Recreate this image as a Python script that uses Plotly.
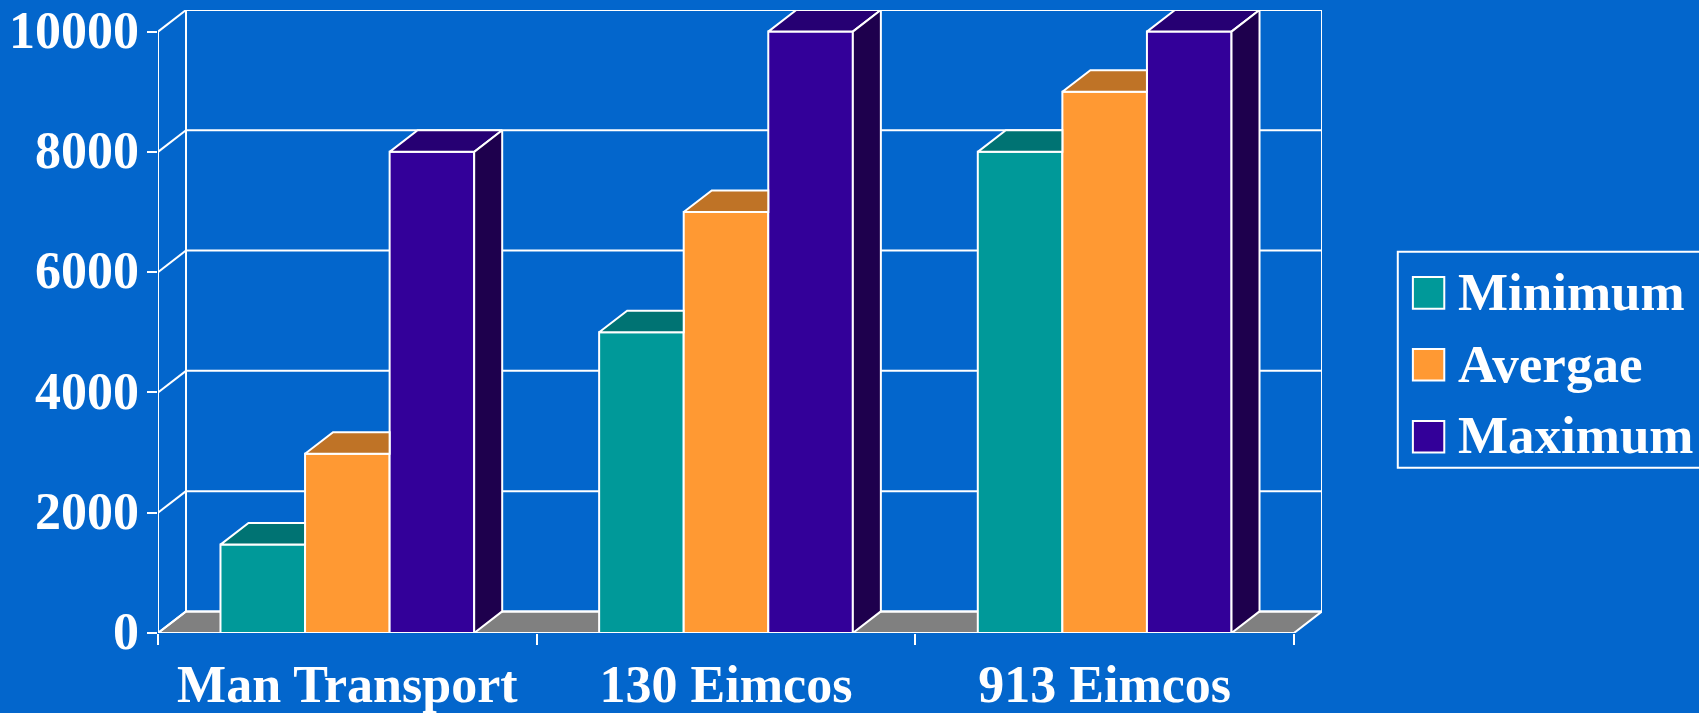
import plotly.graph_objects as go

CATEGORIES = ["Man Transport", "130 Eimcos", "913 Eimcos"]
MINIMUM = [1470, 5000, 8000]
AVERGAE = [2980, 7000, 9000]
MAXIMUM = [8000, 10000, 10000]
SERIES = ["Minimum", "Avergae", "Maximum"]
Y_TICKS = [0, 2000, 4000, 6000, 8000, 10000]

FRONT = ["#009999", "#FF9933", "#330099"]
TOP = ["#007373", "#BF7326", "#260073"]
SIDE = "#1E004D"
BG = "#0366CC"
FLOOR = "#808080"
WHITE = "white"
FONT = "Liberation Serif"
SIZE = 52
LEGEND_SIZE = 53

W, H = 1699, 713
L, R, T, B = 157.5, 1321.7, 10.3, 633.3
GROUPS = len(CATEGORIES)
DX = 28 / 378.5       # depth of the 3-D box in x-axis units
DY = 359              # depth of the 3-D box in y-axis units
BARGAP = 0.33
BAR_W = (1 - BARGAP) / 3
XMAX = GROUPS + DX
YMAX = max(Y_TICKS) + DY
LW = 2

x_pos = [i + 0.5 for i in range(GROUPS)]
values = [MINIMUM, AVERGAE, MAXIMUM]


def px(x):
    return (x - L) / (R - L)


def py(y):
    return (B - y) / (B - T)


fig = go.Figure()

# Front faces
for name, vals, color in zip(SERIES, values, FRONT):
    fig.add_trace(go.Bar(
        x=x_pos, y=vals, name=name, showlegend=False,
        marker=dict(color=color, line=dict(color=WHITE, width=LW)),
    ))

# Top and side faces, worked out from the values
for s, vals in enumerate(values):
    for g, v in enumerate(vals):
        x0 = x_pos[g] - 1.5 * BAR_W + s * BAR_W
        x1 = x0 + BAR_W
        last = s == len(values) - 1
        if last:
            xs = [x0, x0 + DX, x1 + DX, x1, x0]
            ys = [v, v + DY, v + DY, v, v]
        else:
            xs = [x0, x0 + DX, x1, x1, x0]
            ys = [v, v + DY, v + DY, v, v]
        fig.add_trace(go.Scatter(
            x=xs, y=ys, mode="lines", fill="toself", fillcolor=TOP[s],
            line=dict(color=WHITE, width=LW), hoverinfo="skip", showlegend=False,
            cliponaxis=False,
        ))
        if last:
            fig.add_trace(go.Scatter(
                x=[x1, x1 + DX, x1 + DX, x1, x1],
                y=[0, DY, v + DY, v, 0],
                mode="lines", fill="toself", fillcolor=SIDE,
                line=dict(color=WHITE, width=LW), hoverinfo="skip", showlegend=False,
                cliponaxis=False,
            ))

shapes = []


def line(x0, y0, x1, y1):
    shapes.append(dict(type="line", xref="x", yref="y", x0=x0, y0=y0, x1=x1, y1=y1,
                       layer="below", line=dict(color=WHITE, width=LW)))


# Floor
shapes.append(dict(
    type="path", xref="x", yref="y", layer="below",
    path=f"M0,0 L{DX},{DY} L{XMAX},{DY} L{GROUPS},0 Z",
    fillcolor=FLOOR, line=dict(color=WHITE, width=LW),
))
# Back wall and left wall
for t in Y_TICKS:
    line(DX, t + DY, XMAX, t + DY)
    line(0, t, DX, t + DY)
top = max(Y_TICKS)
line(0, 0, 0, top)
line(DX, DY, DX, top + DY)
line(XMAX, DY, XMAX, top + DY)
line(0, 0, GROUPS, 0)

# Legend
BOX = (1397.5, 252, 1702, 468)
SWATCH_X = (1412.6, 1444)
SWATCH_Y = [(277.3, 309), (349.3, 380.7), (421.3, 452.7)]
TEXT_X = 1456
TEXT_Y = [292, 364, 435]
shapes.append(dict(type="rect", xref="paper", yref="paper",
                   x0=px(BOX[0]), x1=px(BOX[2]), y0=py(BOX[3]), y1=py(BOX[1]),
                   line=dict(color=WHITE, width=LW)))
annotations = []
for name, color, (a, b), ty in zip(SERIES, FRONT, SWATCH_Y, TEXT_Y):
    shapes.append(dict(type="rect", xref="paper", yref="paper",
                       x0=px(SWATCH_X[0]), x1=px(SWATCH_X[1]), y0=py(b), y1=py(a),
                       fillcolor=color, line=dict(color=WHITE, width=LW)))
    annotations.append(dict(
        xref="paper", yref="paper", x=px(TEXT_X), y=py(ty), xanchor="left", yanchor="middle",
        text=f"<b>{name}</b>", showarrow=False,
        font=dict(family=FONT, size=LEGEND_SIZE, color=WHITE),
    ))

fig.update_layout(
    width=W, height=H, autosize=False,
    margin=dict(l=L, r=W - R, t=T, b=H - B, pad=0, autoexpand=False),
    paper_bgcolor=BG, plot_bgcolor=BG,
    barmode="group", bargap=BARGAP, bargroupgap=0,
    showlegend=False, shapes=shapes, annotations=annotations,
    font=dict(family=FONT, color=WHITE, size=SIZE),
    xaxis=dict(
        range=[0, XMAX], showgrid=False, zeroline=False, showline=False, automargin=False,
        tickmode="array", tickvals=x_pos, ticktext=[f"<b>{c}</b>" for c in CATEGORIES],
        ticks="", ticklabelstandoff=16,
        tickfont=dict(family=FONT, size=SIZE, color=WHITE),
        minor=dict(tickmode="array", tickvals=list(range(GROUPS + 1)), ticks="outside",
                   ticklen=11, tickwidth=LW, tickcolor=WHITE, showgrid=False),
    ),
    yaxis=dict(
        range=[0, YMAX], showgrid=False, zeroline=False, showline=False, automargin=False,
        tickmode="array", tickvals=Y_TICKS, ticktext=[f"<b>{t}</b>" for t in Y_TICKS],
        ticks="outside", ticklen=10.5, tickwidth=LW, tickcolor=WHITE,
        ticklabelstandoff=-3, ticklabelshift=-2,
        tickfont=dict(family=FONT, size=SIZE, color=WHITE),
    ),
)

fig.write_html(
    "out.html",
    config=dict(displayModeBar=False),
    post_script=f"document.body.style.margin='0';document.body.style.background='{BG}';"
                "document.documentElement.style.overflow='hidden';",
)
